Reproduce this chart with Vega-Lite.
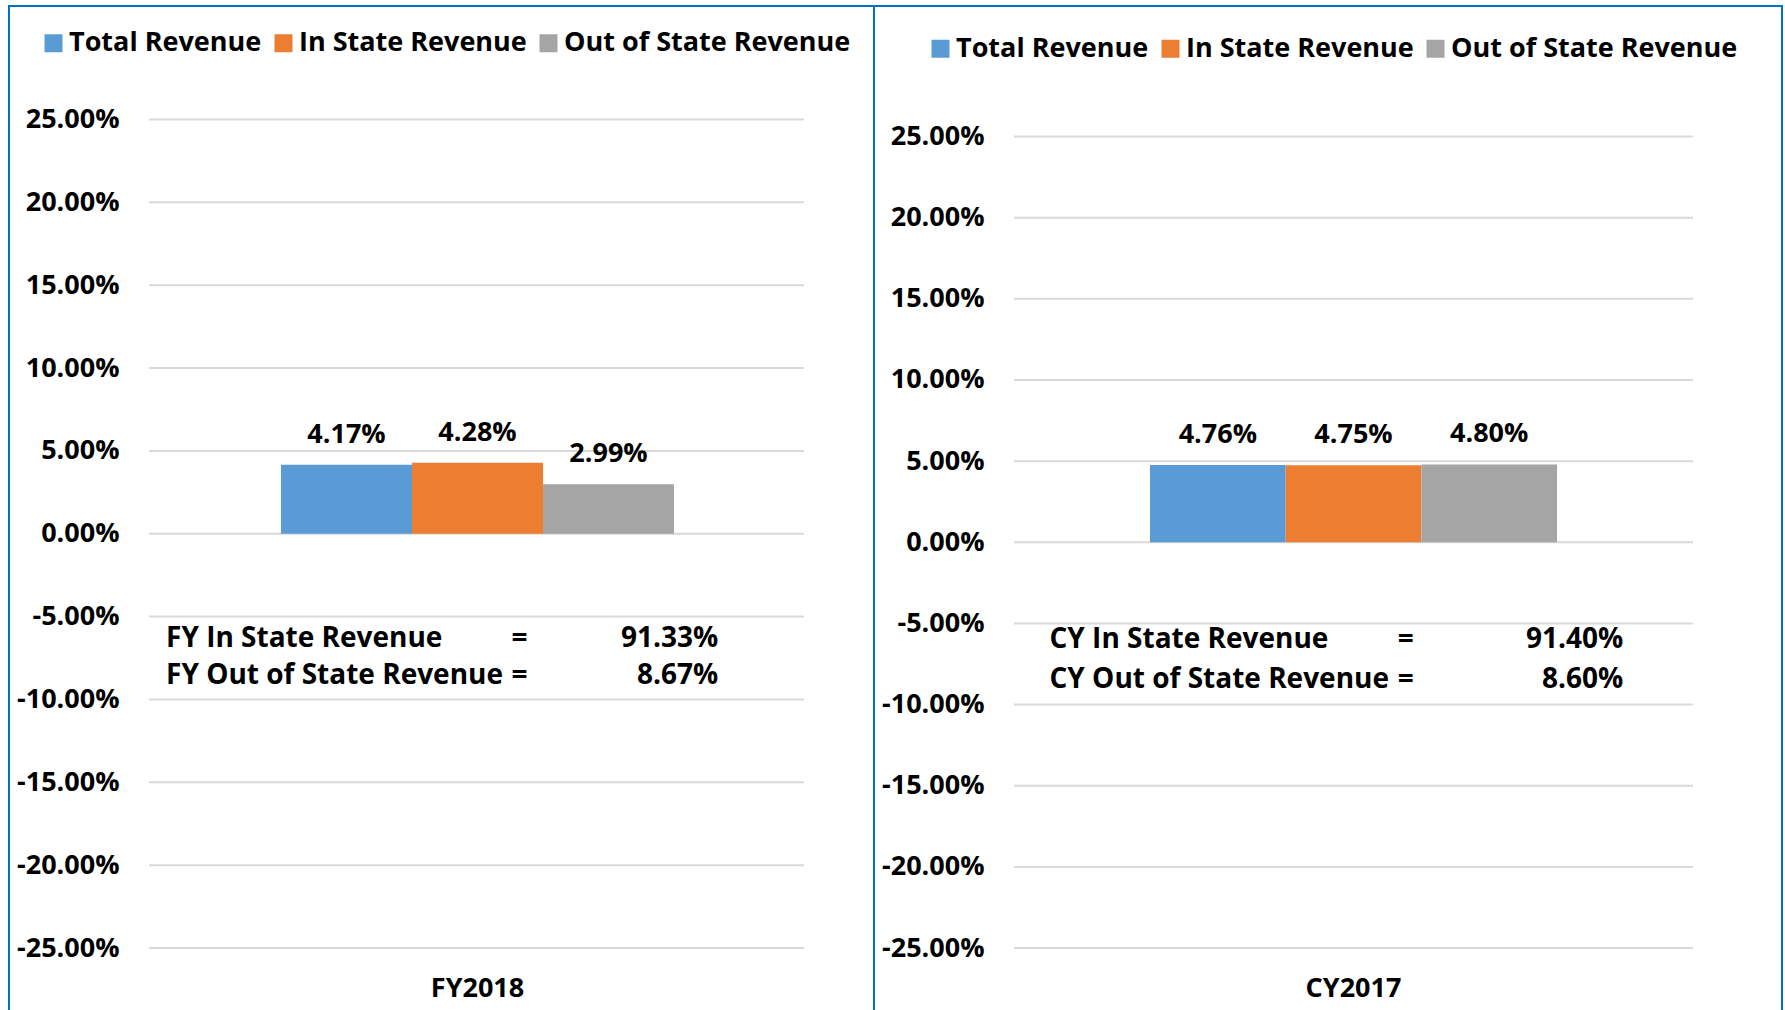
{
  "$schema": "https://vega.github.io/schema/vega-lite/v6.json",
  "padding": {"left": 8, "top": 5, "right": 0, "bottom": 0},
  "background": "white",
  "spacing": 0,
  "bounds": "flush",
  "config": {
    "font": "Open Sans",
    "locale": {"number": {"decimal": ".", "thousands": ",", "grouping": [3], "currency": ["$", ""], "minus": "-"}},
    "view": {"stroke": "#0070C0", "strokeWidth": 2},
    "text": {"font": "Open Sans", "fontWeight": "bold", "color": "black"}
  },
  "resolve": {"scale": {"color": "independent", "xOffset": "independent"}, "legend": {"color": "independent"}},
  "datasets": {
    "grid": [
      {"g": "grid", "v": -0.25}, {"g": "grid", "v": -0.2}, {"g": "grid", "v": -0.15}, {"g": "grid", "v": -0.1},
      {"g": "grid", "v": -0.05}, {"g": "grid", "v": 0}, {"g": "grid", "v": 0.05}, {"g": "grid", "v": 0.1},
      {"g": "grid", "v": 0.15}, {"g": "grid", "v": 0.2}, {"g": "grid", "v": 0.25}
    ],
    "fy": [
      {"period": "FY2018", "series": "Total Revenue", "value": 0.0417},
      {"period": "FY2018", "series": "In State Revenue", "value": 0.0428},
      {"period": "FY2018", "series": "Out of State Revenue", "value": 0.0299}
    ],
    "cy": [
      {"period": "CY2017", "series": "Total Revenue", "value": 0.0476},
      {"period": "CY2017", "series": "In State Revenue", "value": 0.0475},
      {"period": "CY2017", "series": "Out of State Revenue", "value": 0.048}
    ],
    "fy_notes": [
      {"period": "FY2018", "labels": ["FY In State Revenue", "FY Out of State Revenue"], "eq": ["=", "="], "vals": ["91.33%", "8.67%"]}
    ],
    "cy_notes": [
      {"period": "CY2017", "labels": ["CY In State Revenue", "CY Out of State Revenue"], "eq": ["=", "="], "vals": ["91.40%", "8.60%"]}
    ]
  },
  "hconcat": [
    {
      "width": 865,
      "height": 1007,
      "resolve": {"scale": {"x": "independent"}},
      "layer": [
        {
          "data": {"name": "grid"},
          "mark": {"type": "rect", "fillOpacity": 0, "stroke": "#D9D9D9", "strokeWidth": 2},
          "encoding": {
            "x": {"field": "g", "type": "nominal", "scale": {"type": "band", "paddingInner": 0, "paddingOuter": 0.1603, "align": 0.6667}, "axis": null},
            "y": {"field": "v", "type": "quantitative",
              "scale": {"domain": [-0.28916, 0.31842], "nice": false, "zero": false},
              "axis": {"values": [-0.25, -0.2, -0.15, -0.1, -0.05, 0, 0.05, 0.1, 0.15, 0.2, 0.25], "format": ".2%", "orient": "left", "offset": -110, "domain": false, "ticks": false, "tickSize": 0, "labelPadding": 0, "grid": false, "title": null, "labelFont": "Open Sans", "labelFontSize": 27, "labelFontWeight": "bold", "labelColor": "black", "labelOverlap": false}},
            "y2": {"field": "v"}
          }
        },
        {
          "layer": [
            {
              "data": {"name": "fy"},
              "mark": {"type": "bar"},
              "encoding": {
                "x": {"field": "period", "type": "nominal",
                  "scale": {"type": "band", "paddingInner": 0, "paddingOuter": 0.6005, "align": 0.5763},
                  "axis": {"title": null, "orient": "bottom", "offset": -25, "domain": false, "ticks": false, "tickSize": 0, "labelPadding": 0, "labelBaseline": "middle", "labelAngle": 0, "labelFont": "Open Sans", "labelFontSize": 27, "labelFontWeight": "bold", "labelColor": "black", "grid": false}},
                "xOffset": {"field": "series", "type": "nominal", "sort": ["Total Revenue", "In State Revenue", "Out of State Revenue"], "scale": {"paddingInner": 0, "paddingOuter": 0}},
                "y": {"field": "value", "type": "quantitative"},
                "color": {"field": "series", "type": "nominal", "sort": ["Total Revenue", "In State Revenue", "Out of State Revenue"],
                  "scale": {"domain": ["Total Revenue", "In State Revenue", "Out of State Revenue"], "range": ["#5B9BD5", "#ED7D31", "#A5A5A5"]},
                  "legend": {"orient": "none", "legendX": 31, "legendY": 23.5, "direction": "horizontal", "title": null, "symbolType": "square", "symbolSize": 324, "symbolStrokeWidth": 0, "labelFont": "Open Sans", "labelFontSize": 27, "labelFontWeight": "bold", "labelColor": "black", "labelLimit": 400, "columnPadding": 8, "labelOffset": 2, "padding": 0}}
              }
            },
            {
              "data": {"name": "fy"},
              "mark": {"type": "text", "baseline": "middle", "dy": -30, "fontSize": 27, "fontWeight": "bold", "color": "black"},
              "encoding": {
                "x": {"field": "period", "type": "nominal"},
                "xOffset": {"field": "series", "type": "nominal", "sort": ["Total Revenue", "In State Revenue", "Out of State Revenue"]},
                "y": {"field": "value", "type": "quantitative"},
                "text": {"field": "value", "type": "quantitative", "format": ".2%"}
              }
            },
            {
              "data": {"name": "fy_notes"},
              "mark": {"type": "text", "align": "left", "baseline": "middle", "fontSize": 28, "fontWeight": "bold", "lineHeight": 36.4, "color": "black"},
              "encoding": {
                "x": {"field": "period", "type": "nominal", "bandPosition": -0.2926},
                "y": {"datum": -0.0638, "type": "quantitative"},
                "text": {"field": "labels"}
              }
            },
            {
              "data": {"name": "fy_notes"},
              "mark": {"type": "text", "align": "center", "baseline": "middle", "fontSize": 28, "fontWeight": "bold", "lineHeight": 36.4, "color": "black"},
              "encoding": {
                "x": {"field": "period", "type": "nominal", "bandPosition": 0.607},
                "y": {"datum": -0.0638, "type": "quantitative"},
                "text": {"field": "eq"}
              }
            },
            {
              "data": {"name": "fy_notes"},
              "mark": {"type": "text", "align": "right", "baseline": "middle", "fontSize": 28, "fontWeight": "bold", "lineHeight": 36.4, "color": "black"},
              "encoding": {
                "x": {"field": "period", "type": "nominal", "bandPosition": 1.1125},
                "y": {"datum": -0.0638, "type": "quantitative"},
                "text": {"field": "vals"}
              }
            }
          ]
        }
      ]
    },
    {
      "width": 908,
      "height": 1007,
      "resolve": {"scale": {"x": "independent"}},
      "layer": [
        {
          "data": {"name": "grid"},
          "mark": {"type": "rect", "fillOpacity": 0, "stroke": "#D9D9D9", "strokeWidth": 2},
          "encoding": {
            "x": {"field": "g", "type": "nominal", "scale": {"type": "band", "paddingInner": 0, "paddingOuter": 0.1686, "align": 0.6114}, "axis": null},
            "y": {"field": "v", "type": "quantitative",
              "scale": {"domain": [-0.28998, 0.3304], "nice": false, "zero": false},
              "axis": {"values": [-0.25, -0.2, -0.15, -0.1, -0.05, 0, 0.05, 0.1, 0.15, 0.2, 0.25], "format": ".2%", "orient": "left", "offset": -110, "domain": false, "ticks": false, "tickSize": 0, "labelPadding": 0, "grid": false, "title": null, "labelFont": "Open Sans", "labelFontSize": 27, "labelFontWeight": "bold", "labelColor": "black", "labelOverlap": false}},
            "y2": {"field": "v"}
          }
        },
        {
          "layer": [
            {
              "data": {"name": "cy"},
              "mark": {"type": "bar"},
              "encoding": {
                "x": {"field": "period", "type": "nominal",
                  "scale": {"type": "band", "paddingInner": 0, "paddingOuter": 0.6155, "align": 0.5509},
                  "axis": {"title": null, "orient": "bottom", "offset": -25, "domain": false, "ticks": false, "tickSize": 0, "labelPadding": 0, "labelBaseline": "middle", "labelAngle": 0, "labelFont": "Open Sans", "labelFontSize": 27, "labelFontWeight": "bold", "labelColor": "black", "grid": false}},
                "xOffset": {"field": "series", "type": "nominal", "sort": ["Total Revenue", "In State Revenue", "Out of State Revenue"], "scale": {"paddingInner": 0, "paddingOuter": 0}},
                "y": {"field": "value", "type": "quantitative"},
                "color": {"field": "series", "type": "nominal", "sort": ["Total Revenue", "In State Revenue", "Out of State Revenue"],
                  "scale": {"domain": ["Total Revenue", "In State Revenue", "Out of State Revenue"], "range": ["#5B9BD5", "#ED7D31", "#A5A5A5"]},
                  "legend": {"orient": "none", "legendX": 53, "legendY": 29, "direction": "horizontal", "title": null, "symbolType": "square", "symbolSize": 324, "symbolStrokeWidth": 0, "labelFont": "Open Sans", "labelFontSize": 27, "labelFontWeight": "bold", "labelColor": "black", "labelLimit": 400, "columnPadding": 8, "labelOffset": 2, "padding": 0}}
              }
            },
            {
              "data": {"name": "cy"},
              "mark": {"type": "text", "baseline": "middle", "dy": -30, "fontSize": 27, "fontWeight": "bold", "color": "black"},
              "encoding": {
                "x": {"field": "period", "type": "nominal"},
                "xOffset": {"field": "series", "type": "nominal", "sort": ["Total Revenue", "In State Revenue", "Out of State Revenue"]},
                "y": {"field": "value", "type": "quantitative"},
                "text": {"field": "value", "type": "quantitative", "format": ".2%"}
              }
            },
            {
              "data": {"name": "cy_notes"},
              "mark": {"type": "text", "align": "left", "baseline": "middle", "fontSize": 28, "fontWeight": "bold", "lineHeight": 39.8, "color": "black"},
              "encoding": {
                "x": {"field": "period", "type": "nominal", "bandPosition": -0.2469},
                "y": {"datum": -0.0603, "type": "quantitative"},
                "text": {"field": "labels"}
              }
            },
            {
              "data": {"name": "cy_notes"},
              "mark": {"type": "text", "align": "center", "baseline": "middle", "fontSize": 28, "fontWeight": "bold", "lineHeight": 39.8, "color": "black"},
              "encoding": {
                "x": {"field": "period", "type": "nominal", "bandPosition": 0.6285},
                "y": {"datum": -0.0603, "type": "quantitative"},
                "text": {"field": "eq"}
              }
            },
            {
              "data": {"name": "cy_notes"},
              "mark": {"type": "text", "align": "right", "baseline": "middle", "fontSize": 28, "fontWeight": "bold", "lineHeight": 39.8, "color": "black"},
              "encoding": {
                "x": {"field": "period", "type": "nominal", "bandPosition": 1.1629},
                "y": {"datum": -0.0603, "type": "quantitative"},
                "text": {"field": "vals"}
              }
            }
          ]
        }
      ]
    }
  ]
}
